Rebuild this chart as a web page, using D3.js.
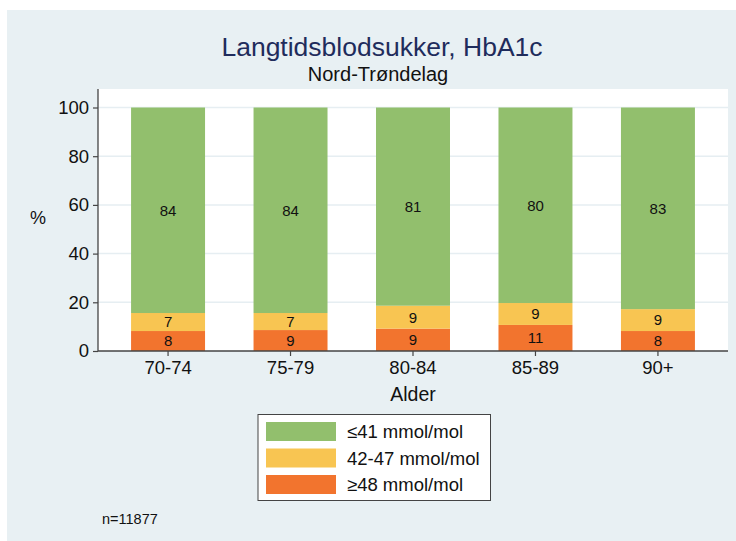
<!DOCTYPE html>
<html><head><meta charset="utf-8">
<script src="https://cdn.jsdelivr.net/npm/d3@7"></script>
<style>body{margin:0;background:#fff}svg{display:block}text{font-family:"Liberation Sans",Arial,Helvetica,sans-serif}</style>
</head><body><svg id="c" width="736" height="541"></svg>
<script>
const categories = ["70-74","75-79","80-84","85-89","90+"];
const high = [8.2, 8.6, 9.2, 10.7, 8.2];     // ≥48 mmol/mol
const mid  = [7.4, 7.0, 9.4, 9.0, 9.0];      // 42-47 mmol/mol
const low  = [84.4, 84.4, 81.4, 80.3, 82.8]; // ≤41 mmol/mol
const seriesNames = ["≥48 mmol/mol","42-47 mmol/mol","≤41 mmol/mol"];
const seriesColors = ["#f2742e","#f8c552","#92bf6d"];
const yTicks = [0,20,40,60,80,100];
const legendOrder = [2,1,0];

const svg = d3.select("#c");
svg.append("rect").attr("x",7).attr("y",10).attr("width",729).attr("height",531).attr("fill","#e8f0f3");

const L=98,R=728,T=89,B=351;
svg.append("rect").attr("x",L).attr("y",T).attr("width",R-L).attr("height",B-T).attr("fill","#fff");

const x = d3.scaleBand().domain(categories).range([L,R]).paddingInner(0.396).paddingOuter(0.27);
const y = d3.scaleLinear().domain([0,100]).range([B,107.5]);

// gridlines
svg.append("g").selectAll("line").data(yTicks.filter(d=>d>0)).join("line")
  .attr("x1",L).attr("x2",R).attr("y1",d=>y(d)).attr("y2",d=>y(d))
  .attr("stroke","#e6eef2").attr("stroke-width",1.5);

const table = categories.map((c,i)=>({cat:c, s0:high[i], s1:mid[i], s2:low[i]}));
const stacked = d3.stack().keys(["s0","s1","s2"])(table);

const g = svg.append("g");
stacked.forEach((layer,li)=>{
  g.append("g").selectAll("rect").data(layer).join("rect")
    .attr("x",d=>x(d.data.cat)).attr("width",x.bandwidth())
    .attr("y",d=>y(d[1])).attr("height",d=>y(d[0])-y(d[1]))
    .attr("fill",seriesColors[li]);
  g.append("g").selectAll("text").data(layer).join("text")
    .attr("x",d=>x(d.data.cat)+x.bandwidth()/2)
    .attr("y",d=>(y(d[0])+y(d[1]))/2)
    .attr("dy","0.36em").attr("text-anchor","middle")
    .attr("font-size",15).attr("fill","#111")
    .text(d=>Math.round(d[1]-d[0]));
});

// axes
const ya = svg.append("g").attr("transform",`translate(${L},0)`)
  .call(d3.axisLeft(y).tickValues(yTicks).tickSize(5).tickPadding(4));
ya.select(".domain").attr("d",`M0,${T}V${B}`).attr("stroke","#444").attr("stroke-width",1.3);
ya.selectAll(".tick line").attr("stroke","#444").attr("stroke-width",1.2);
ya.selectAll(".tick text").attr("font-size",18.5).attr("fill","#111")
  .style("font-family",'"Liberation Sans",Arial,sans-serif');

const xa = svg.append("g").attr("transform",`translate(0,${B})`)
  .call(d3.axisBottom(x).tickSize(5).tickPadding(5));
xa.select(".domain").attr("d",`M${L},0H${R}`).attr("stroke","#444").attr("stroke-width",1.3);
xa.selectAll(".tick line").attr("stroke","#444").attr("stroke-width",1.2);
xa.selectAll(".tick text").attr("font-size",18.5).attr("fill","#111")
  .style("font-family",'"Liberation Sans",Arial,sans-serif');

svg.append("text").attr("x",413).attr("y",401).attr("text-anchor","middle").attr("font-size",19.5).attr("fill","#111").text("Alder");
svg.append("text").attr("x",38).attr("y",224).attr("text-anchor","middle").attr("font-size",18).attr("fill","#111").text("%");

svg.append("text").attr("x",382).attr("y",56).attr("text-anchor","middle").attr("font-size",26.5).attr("fill","#1f2c5c").text("Langtidsblodsukker, HbA1c");
svg.append("text").attr("x",378).attr("y",81).attr("text-anchor","middle").attr("font-size",20).attr("fill","#111").text("Nord-Trøndelag");

// legend
const lg = svg.append("g");
lg.append("rect").attr("x",258).attr("y",414.5).attr("width",232.5).attr("height",86).attr("fill","#fff").attr("stroke","#444").attr("stroke-width",1);
legendOrder.forEach((si,k)=>{
  const cy = 431.5 + k*26.5;
  lg.append("rect").attr("x",266).attr("y",cy-9.5).attr("width",70).attr("height",19).attr("fill",seriesColors[si]);
  lg.append("text").attr("x",347).attr("y",cy).attr("dy","0.36em").attr("font-size",18.5).attr("fill","#111").text(seriesNames[si]);
});

svg.append("text").attr("x",102).attr("y",524).attr("font-size",14.5).attr("fill","#111").text("n=11877");
</script></body></html>
